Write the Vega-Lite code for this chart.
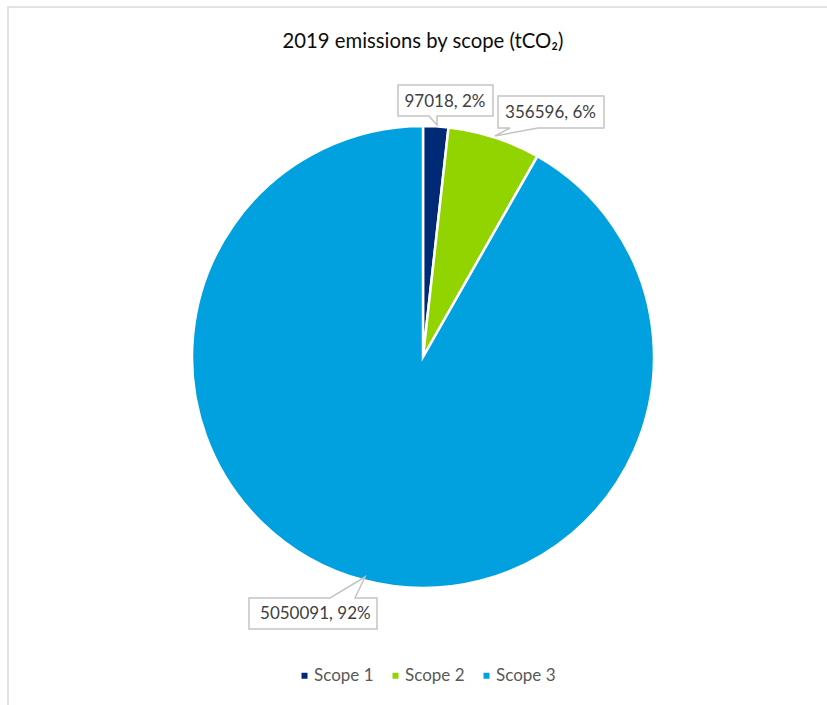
{
  "$schema": "https://vega.github.io/schema/vega-lite/v6.json",
  "width": 827,
  "height": 705,
  "autosize": {"type": "fit", "contains": "padding"},
  "padding": {"left": 8, "top": 7, "right": -11, "bottom": -2},
  "background": "white",
  "view": {"stroke": "#d9d9d9", "strokeWidth": 1.5, "fill": "white"},
  "title": {
    "text": "2019 emissions by scope (tCO₂)",
    "font": "Lato",
    "fontSize": 20.3,
    "fontWeight": "normal",
    "color": "#0d0d0d",
    "anchor": "middle",
    "baseline": "alphabetic",
    "offset": -61
  },
  "config": {
    "view": {"stroke": "#d9d9d9", "strokeWidth": 1.5},
    "font": "Lato"
  },
  "data": {
    "values": [
      {"scope": "Scope 1", "value": 97018, "label": "97018, 2%"},
      {"scope": "Scope 2", "value": 356596, "label": "356596, 6%"},
      {"scope": "Scope 3", "value": 5050091, "label": "5050091, 92%"}
    ]
  },
  "layer": [
    {
      "mark": {"type": "arc", "outerRadius": 231, "stroke": "white", "strokeWidth": 2.5},
      "encoding": {
        "theta": {"field": "value", "type": "quantitative", "stack": true},
        "order": {"field": "scope", "type": "ordinal", "sort": "ascending"},
        "color": {
          "field": "scope",
          "type": "nominal",
          "scale": {"domain": ["Scope 1", "Scope 2", "Scope 3"], "range": ["#002A76", "#92D400", "#00A1DE"]},
          "legend": {
            "title": null,
            "orient": "none",
            "direction": "horizontal",
            "legendX": 288,
            "legendY": 660,
            "symbolType": "square",
            "symbolSize": 36,
            "symbolStrokeWidth": 0,
            "labelFont": "Lato",
            "labelFontSize": 17,
            "labelColor": "#595959",
            "labelOffset": 1,
            "columnPadding": 13,
            "padding": 0
          }
        }
      }
    },
    {
      "transform": [{"filter": "datum.scope === 'Scope 1'"}],
      "mark": {"type": "point", "shape": "M-25,-272H70V-241H14V-232L6,-241H-25Z", "size": 4, "filled": true, "fill": "white", "stroke": "#c4c4c4", "strokeWidth": 1.5, "opacity": 1},
      "encoding": {}
    },
    {
      "transform": [{"filter": "datum.scope === 'Scope 2'"}],
      "mark": {"type": "point", "shape": "M75,-261H181V-229H115L72,-221L87,-229H75Z", "size": 4, "filled": true, "fill": "white", "stroke": "#c4c4c4", "strokeWidth": 1.5, "opacity": 1},
      "encoding": {}
    },
    {
      "transform": [{"filter": "datum.scope === 'Scope 3'"}],
      "mark": {"type": "point", "shape": "M-174,241H-93L-58,220L-68,241H-46V272H-174Z", "size": 4, "filled": true, "fill": "white", "stroke": "#c4c4c4", "strokeWidth": 1.5, "opacity": 1},
      "encoding": {}
    },
    {
      "mark": {"type": "text", "radius": 256.4, "font": "Lato", "fontSize": 17, "color": "#404040", "align": "center", "baseline": "middle"},
      "encoding": {
        "theta": {"field": "value", "type": "quantitative", "stack": true, "bandPosition": 0.775},
        "order": {"field": "scope", "type": "ordinal", "sort": "ascending"},
        "text": {"condition": {"test": "datum.scope === 'Scope 1'", "field": "label", "type": "nominal"}, "value": ""}
      }
    },
    {
      "mark": {"type": "text", "radius": 275.3, "font": "Lato", "fontSize": 17, "color": "#404040", "align": "center", "baseline": "middle"},
      "encoding": {
        "theta": {"field": "value", "type": "quantitative", "stack": true, "bandPosition": 0.911},
        "order": {"field": "scope", "type": "ordinal", "sort": "ascending"},
        "text": {"condition": {"test": "datum.scope === 'Scope 2'", "field": "label", "type": "nominal"}, "value": ""}
      }
    },
    {
      "mark": {"type": "text", "radius": 278.3, "font": "Lato", "fontSize": 17, "color": "#404040", "align": "center", "baseline": "middle"},
      "encoding": {
        "theta": {"field": "value", "type": "quantitative", "stack": true, "bandPosition": 0.524},
        "order": {"field": "scope", "type": "ordinal", "sort": "ascending"},
        "text": {"condition": {"test": "datum.scope === 'Scope 3'", "field": "label", "type": "nominal"}, "value": ""}
      }
    }
  ]
}
